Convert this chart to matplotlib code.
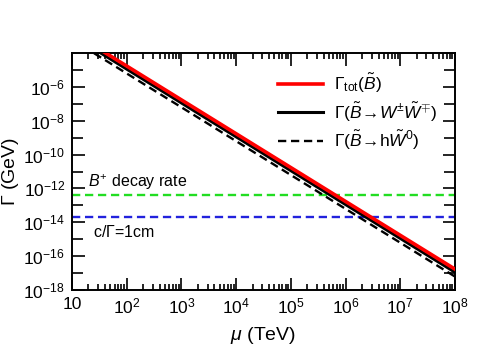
import numpy as np
import matplotlib
matplotlib.use("Agg")
import matplotlib.pyplot as plt
from matplotlib.ticker import LogLocator, FixedLocator, FixedFormatter, NullFormatter

plt.rcParams['font.family'] = ['Liberation Sans', 'DejaVu Sans']
plt.rcParams['mathtext.fontset'] = 'custom'
plt.rcParams['mathtext.rm'] = 'Liberation Sans'
plt.rcParams['mathtext.it'] = 'Liberation Sans:italic'
plt.rcParams['mathtext.bf'] = 'Liberation Sans:bold'

# decay widths vs mu (TeV), straight lines on log-log, endpoints
mu = [10, 1e8]
gamma_tot = [1.7e-3, 1.7e-17]
gamma_WW = [1.12e-3, 1.12e-17]
gamma_hW = [6.2e-4, 6.2e-18]

# reference horizontal lines (GeV)
gamma_Bplus = 4.1e-13
gamma_1cm = 1.97e-14

x_ticks = [10, 1e2, 1e3, 1e4, 1e5, 1e6, 1e7, 1e8]
x_ticklabels = ['10', r'$10^2$', r'$10^3$', r'$10^4$', r'$10^5$', r'$10^6$', r'$10^7$', r'$10^8$']
y_labelled = [1e-18, 1e-16, 1e-14, 1e-12, 1e-10, 1e-8, 1e-6]
y_ticklabels = [r'$10^{-18}$', r'$10^{-16}$', r'$10^{-14}$', r'$10^{-12}$',
                r'$10^{-10}$', r'$10^{-8}$', r'$10^{-6}$']
y_odd = [1e-17, 1e-15, 1e-13, 1e-11, 1e-9, 1e-7, 1e-5]

fig = plt.figure(figsize=(4.98, 3.48), dpi=100)
ax = fig.add_axes([72/498, 1-290/348, (455-72)/498, (290-53)/348])

ax.plot(mu, gamma_tot, color='red', lw=2.6, label=r'$\Gamma_{\rm tot}(\tilde{B})$', zorder=4)
ax.plot(mu, gamma_WW, color='black', lw=2.2, label=r'$\Gamma(\tilde{B}\!\rightarrow\! W^{\pm}\tilde{W}^{\mp})$', zorder=3)
ax.plot(mu, gamma_hW, color='black', lw=1.7, ls=(0, (3.5, 2)), label=r'$\Gamma(\tilde{B}\!\rightarrow\!{\rm h}\tilde{W}^{0})$', zorder=3)

ax.axhline(gamma_Bplus, color='#22dd22', lw=1.7, ls=(0, (3.5, 2)), zorder=2)
ax.axhline(gamma_1cm, color='#2222dd', lw=1.7, ls=(0, (3.5, 2)), zorder=2)

ax.text(19.5, 2.2e-12, r'$B^{+}$ decay rate', fontsize=11.5, va='center', ha='left')
ax.text(24, 2.7e-15, r'c/$\Gamma$=1cm', fontsize=11.5, va='center', ha='left')

ax.set_xscale('log')
ax.set_yscale('log')
ax.set_xlim(10, 1e8)
ax.set_ylim(1e-18, 1e-4)

ax.xaxis.set_major_locator(FixedLocator(x_ticks))
ax.xaxis.set_major_formatter(FixedFormatter(x_ticklabels))
ax.xaxis.set_minor_locator(LogLocator(base=10, subs=np.arange(2, 10), numticks=20))
ax.xaxis.set_minor_formatter(NullFormatter())

ax.yaxis.set_major_locator(FixedLocator(y_labelled))
ax.yaxis.set_major_formatter(FixedFormatter(y_ticklabels))
ax.yaxis.set_minor_locator(FixedLocator(y_odd))
ax.yaxis.set_minor_formatter(NullFormatter())

ax.tick_params(which='both', direction='in', top=True, right=True, width=1.2, labelsize=12.5)
ax.tick_params(which='major', length=9, pad=5)
ax.tick_params(axis='x', which='minor', length=4)
ax.tick_params(axis='y', which='minor', length=8)
for s in ax.spines.values():
    s.set_linewidth(1.4)

ax.set_xlabel(r'$\mu$ (TeV)', fontsize=14, labelpad=6)
ax.set_ylabel(r'$\Gamma$ (GeV)', fontsize=14, labelpad=2)

ax.legend(loc='upper left', bbox_to_anchor=(0.52, 0.95), frameon=False, fontsize=12.5,
          handlelength=2.6, handletextpad=0.6, labelspacing=0.3, borderaxespad=0)

fig.savefig('out.png', dpi=100)
